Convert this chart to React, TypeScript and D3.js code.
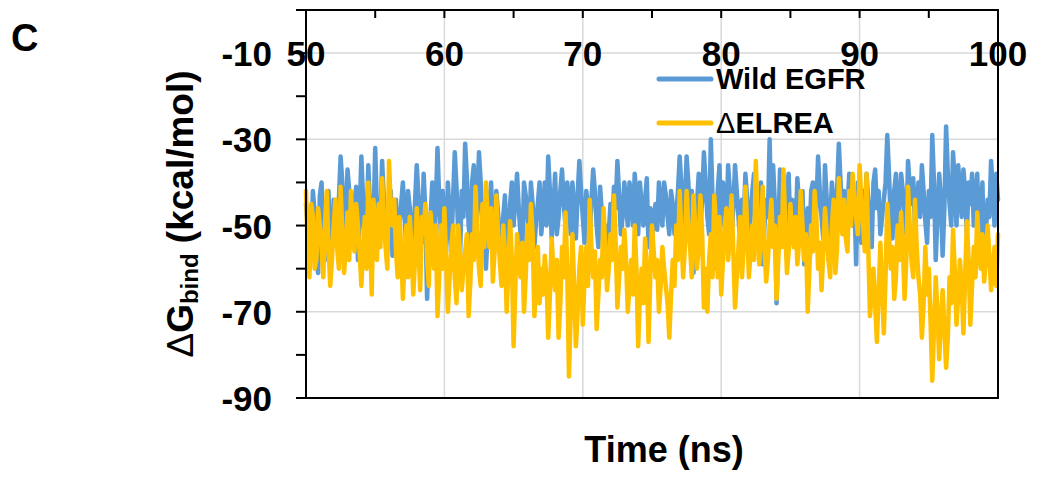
import React, { useRef, useEffect } from "react";
import * as d3 from "d3";

// sampled every 0.125 ns from 50 to 100 ns
const startTime = 50;
const stepTime = 0.125;

const wildEGFR = [
  -45, -50, -60, -53, -42, -47, -58, -61, -43, -40, -55, -58, -46, -42, -60, -55, -44, -48, -52, -44, -34, -40, -56, -50, -37, -42, -50, -55, -45, -41, -58, -48, -34, -44, -57, -52, -36, -46, -54, -50,
  -32, -46, -55, -50, -35, -44, -52, -56, -48, -42, -57, -51, -44, -56, -50, -45, -40, -48, -55, -42, -46, -56, -52, -45, -36, -43, -50, -54, -38, -47, -67, -55, -48, -40, -58, -46, -32, -44, -52, -42,
  -50, -56, -40, -47, -55, -44, -33, -41, -52, -58, -42, -48, -31, -39, -50, -54, -40, -36, -55, -45, -33, -40, -52, -46, -60, -52, -46, -40, -55, -50, -42, -47, -52, -58, -48, -43, -55, -50, -45, -40,
  -50, -44, -38, -46, -52, -56, -40, -43, -48, -53, -40, -45, -55, -49, -45, -40, -52, -47, -40, -50, -34, -42, -53, -46, -38, -52, -48, -42, -37, -45, -50, -40, -44, -52, -40, -46, -53, -43, -35, -42,
  -48, -54, -42, -46, -52, -44, -37, -42, -50, -55, -41, -47, -55, -50, -60, -52, -45, -50, -41, -46, -35, -43, -52, -48, -40, -45, -50, -40, -44, -50, -38, -43, -52, -40, -45, -50, -44, -39, -55, -46,
  -53, -48, -45, -51, -40, -46, -50, -40, -43, -48, -52, -42, -45, -52, -48, -42, -34, -41, -50, -44, -34, -40, -48, -42, -61, -52, -45, -38, -50, -44, -33, -40, -48, -52, -30, -44, -60, -50, -42, -36,
  -50, -40, -44, -50, -36, -42, -52, -46, -36, -42, -48, -54, -44, -49, -38, -44, -53, -48, -42, -38, -50, -55, -45, -40, -59, -50, -44, -48, -30, -50, -36, -45, -68, -52, -37, -43, -50, -55, -42, -38,
  -52, -44, -45, -52, -39, -45, -50, -42, -59, -50, -46, -54, -42, -40, -52, -46, -34, -42, -48, -53, -36, -44, -58, -49, -40, -45, -50, -42, -31, -40, -48, -42, -52, -46, -38, -42, -50, -44, -59, -40,
  -48, -54, -42, -48, -38, -44, -50, -55, -40, -37, -46, -42, -52, -48, -44, -40, -29, -38, -49, -53, -42, -38, -52, -46, -38, -42, -47, -52, -35, -41, -45, -39, -50, -46, -40, -48, -36, -42, -49, -54,
  -42, -48, -29, -40, -58, -48, -38, -44, -57, -46, -27, -38, -45, -50, -33, -40, -50, -36, -42, -48, -37, -42, -52, -40, -45, -38, -50, -44, -38, -52, -48, -40, -60, -52, -44, -48, -35, -42, -50, -38,
  -44,
];

const deltaELREA = [
  -42, -55, -62, -45, -48, -60, -58, -46, -50, -55, -62, -50, -42, -55, -64, -58, -50, -44, -55, -60, -41, -52, -61, -55, -47, -58, -42, -50, -56, -45, -50, -56, -64, -55, -48, -60, -40, -52, -66, -44,
  -52, -58, -45, -55, -39, -48, -55, -60, -35, -46, -50, -44, -56, -62, -48, -55, -67, -58, -50, -62, -48, -55, -66, -58, -46, -55, -65, -48, -52, -45, -58, -64, -47, -52, -60, -50, -71, -62, -50, -60,
  -46, -58, -70, -62, -55, -50, -62, -68, -50, -56, -65, -60, -56, -52, -71, -63, -52, -58, -41, -52, -60, -64, -45, -55, -40, -48, -55, -46, -63, -56, -43, -52, -58, -64, -50, -56, -70, -60, -49, -58,
  -78, -64, -52, -58, -62, -54, -70, -62, -50, -58, -45, -52, -71, -64, -55, -68, -60, -66, -57, -62, -76, -66, -53, -60, -65, -58, -76, -68, -55, -62, -47, -60, -85, -70, -52, -64, -78, -70, -60, -55,
  -73, -62, -55, -64, -44, -55, -62, -56, -74, -66, -58, -62, -46, -55, -65, -60, -52, -58, -43, -54, -69, -62, -55, -60, -51, -58, -70, -64, -58, -66, -50, -60, -78, -66, -60, -68, -53, -60, -77, -62,
  -50, -56, -62, -58, -70, -64, -55, -60, -64, -68, -76, -66, -58, -64, -50, -58, -42, -52, -62, -55, -42, -50, -55, -62, -43, -50, -60, -55, -43, -52, -69, -60, -70, -58, -52, -62, -43, -50, -62, -48,
  -66, -58, -50, -46, -58, -52, -43, -56, -69, -62, -55, -48, -62, -55, -41, -50, -62, -56, -50, -58, -35, -48, -59, -52, -41, -55, -63, -58, -50, -44, -55, -50, -67, -58, -48, -55, -37, -50, -61, -56,
  -45, -52, -55, -48, -59, -54, -42, -50, -58, -52, -70, -60, -50, -56, -42, -48, -60, -54, -65, -56, -46, -52, -58, -62, -50, -44, -61, -55, -39, -46, -52, -44, -53, -56, -42, -50, -38, -44, -48, -52,
  -36, -44, -50, -56, -38, -55, -71, -66, -60, -68, -77, -66, -54, -64, -75, -62, -45, -52, -60, -55, -67, -62, -50, -58, -47, -55, -67, -58, -41, -50, -58, -62, -44, -55, -62, -66, -76, -68, -55, -66,
  -60, -72, -86, -74, -62, -70, -81, -72, -65, -74, -83, -76, -62, -68, -51, -60, -73, -66, -58, -64, -75, -62, -49, -58, -73, -64, -55, -62, -47, -55, -60, -52, -63, -58, -50, -57, -65, -60, -55, -64,
  -52,
];

const yTicks = [0, -10, -20, -30, -40, -50, -60, -70, -80, -90];
const yLabels = [-10, -30, -50, -70, -90];
const xMinorTicks = [55, 60, 65, 70, 75, 80, 85, 90, 95];
const xLabels = [50, 60, 70, 80, 90, 100];
const xGrid = [60, 70, 80, 90];
const yGrid = [-10, -30, -50, -70];

const series = [
  { label: "Wild EGFR", values: wildEGFR, color: "#5B9BD5" },
  { label: "ELREA", values: deltaELREA, color: "#FFC000" },
];

const font = "'Liberation Sans', Arial, sans-serif";

const App = () => {
  const ref = useRef<SVGSVGElement>(null);

  useEffect(() => {
    document.body.style.margin = "0";
    const svg = d3.select(ref.current);
    svg.selectAll("*").remove();

    const left = 306, right = 998, top = 10, bottom = 398;
    const x = d3.scaleLinear().domain([50, 100]).range([left, right]);
    const y = d3.scaleLinear().domain([-90, 0]).range([bottom, top]);
    const grid = "#d9d9d9";

    // grid
    svg.append("g").selectAll("line").data(yGrid).enter().append("line")
      .attr("x1", left).attr("x2", right)
      .attr("y1", (d) => y(d)).attr("y2", (d) => y(d))
      .attr("stroke", grid).attr("stroke-width", 1.5);
    svg.append("g").selectAll("line").data(xGrid).enter().append("line")
      .attr("x1", (d) => x(d)).attr("x2", (d) => x(d))
      .attr("y1", top).attr("y2", bottom)
      .attr("stroke", grid).attr("stroke-width", 1.5);

    // series
    const line = d3.line<number>()
      .x((d, i) => x(startTime + i * stepTime))
      .y((d) => y(d));
    series.forEach((s) => {
      svg.append("path")
        .attr("d", line(s.values))
        .attr("fill", "none")
        .attr("stroke", s.color)
        .attr("stroke-width", 4.5)
        .attr("stroke-linejoin", "round")
        .attr("stroke-linecap", "round");
    });

    // frame and axes
    const ax = svg.append("g").attr("stroke", "#000").attr("stroke-width", 2);
    ax.append("line").attr("x1", left).attr("x2", left).attr("y1", top).attr("y2", bottom);
    ax.append("line").attr("x1", right).attr("x2", right).attr("y1", top).attr("y2", bottom);
    ax.append("line").attr("x1", left).attr("x2", right + 1).attr("y1", top).attr("y2", top);
    ax.append("line").attr("x1", left - 10).attr("x2", right + 1).attr("y1", bottom).attr("y2", bottom);
    ax.selectAll(".yt").data(yTicks).enter().append("line")
      .attr("x1", left - 10).attr("x2", left)
      .attr("y1", (d) => y(d)).attr("y2", (d) => y(d));
    ax.selectAll(".xt").data(xMinorTicks).enter().append("line")
      .attr("x1", (d) => x(d)).attr("x2", (d) => x(d))
      .attr("y1", top).attr("y2", top + 8);

    // tick labels
    svg.append("g").selectAll("text").data(yLabels).enter().append("text")
      .attr("x", 272).attr("y", (d) => y(d) + 13)
      .attr("text-anchor", "end")
      .style("font", `bold 35px ${font}`)
      .text((d) => d);
    svg.append("g").selectAll("text").data(xLabels).enter().append("text")
      .attr("x", (d) => x(d)).attr("y", y(-10) + 13)
      .attr("text-anchor", "middle")
      .style("font", `bold 35px ${font}`)
      .text((d) => d);

    // axis titles
    const yt = svg.append("text")
      .attr("transform", "translate(193,214) rotate(-90)")
      .attr("text-anchor", "middle")
      .style("font", `bold 37px ${font}`);
    yt.append("tspan").style("font-weight", "normal").text("Δ");
    yt.append("tspan").text("G");
    yt.append("tspan").attr("dy", 5).style("font-size", "24px").text("bind");
    yt.append("tspan").attr("dy", -5).text(" (kcal/mol)");

    svg.append("text")
      .attr("x", 664).attr("y", 462)
      .attr("text-anchor", "middle")
      .style("font", `bold 36px ${font}`)
      .text("Time (ns)");

    svg.append("text")
      .attr("x", 11).attr("y", 51)
      .style("font", `bold 38px ${font}`)
      .text("C");

    // legend
    series.forEach((s, i) => {
      const ly = 79 + i * 44;
      svg.append("line")
        .attr("x1", 659).attr("x2", 711)
        .attr("y1", ly).attr("y2", ly)
        .attr("stroke", s.color).attr("stroke-width", 5)
        .attr("stroke-linecap", "round");
      const t = svg.append("text")
        .attr("x", 716).attr("y", ly + 10)
        .style("font", `bold 29px ${font}`);
      if (i === 1) t.append("tspan").style("font-weight", "normal").text("Δ");
      t.append("tspan").text(s.label);
    });
  }, []);

  return <svg ref={ref} width={1037} height={478} style={{ display: "block" }} />;
};

export default App;
